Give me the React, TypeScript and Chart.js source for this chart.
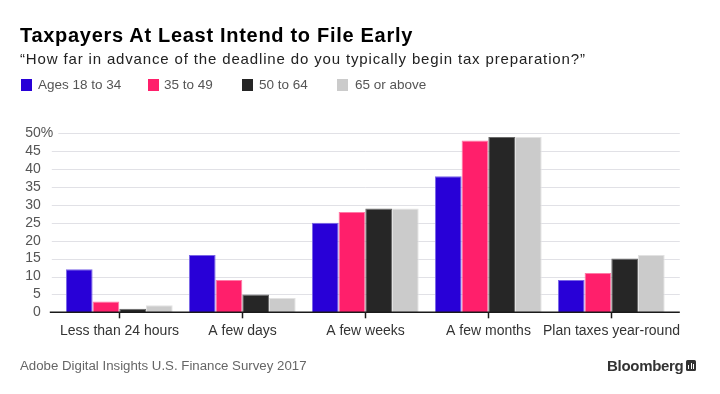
import React, { useEffect, useRef } from "react";
import { Chart, registerables } from "chart.js";
Chart.register(...registerables);

const categories = ["Less than 24 hours", "A few days", "A few weeks", "A few months", "Plan taxes year-round"];
const ages18to34 = [12, 16, 25, 38, 9];
const ages35to49 = [3, 9, 28, 48, 11];
const ages50to64 = [1, 5, 29, 49, 15];
const ages65plus = [2, 4, 29, 49, 16];
const seriesNames = ["Ages 18 to 34", "35 to 49", "50 to 64", "65 or above"];
const seriesColors = ["#2800d7", "#ff1f6b", "#262626", "#cbcbcb"];
const seriesBorders = ["#7a66e6", "#ff7aa6", "#6a6a6a", "#e2e2e2"];
const yMax = 50;
const yStep = 5;

const FONT = '"Liberation Sans", Arial, sans-serif';

export default function App() {
  const ref = useRef<HTMLCanvasElement>(null);

  useEffect(() => {
    const canvas = ref.current;
    if (!canvas) return;

    const axisPlugin = {
      id: "bbgAxis",
      beforeDatasetsDraw(chart: any) {
        const { ctx, chartArea } = chart;
        const y = chart.scales.y;
        ctx.save();
        ctx.strokeStyle = "#e1e1e6";
        ctx.lineWidth = 1;
        y.ticks.forEach((t: any) => {
          if (t.value === 0) return;
          const py = Math.round(y.getPixelForValue(t.value)) + 0.5;
          const x0 = t.value === yMax ? chartArea.left + 0.5 : chartArea.left - 6;
          ctx.beginPath();
          ctx.moveTo(x0, py);
          ctx.lineTo(chartArea.right + 7, py);
          ctx.stroke();
        });
        ctx.restore();
      },
      afterDatasetsDraw(chart: any) {
        const { ctx, chartArea } = chart;
        const y = chart.scales.y;
        const x = chart.scales.x;
        ctx.save();
        const by = y.getPixelForValue(0);
        ctx.strokeStyle = "#1a1a1a";
        ctx.lineWidth = 1.5;
        ctx.beginPath();
        ctx.moveTo(chartArea.left - 8, by);
        ctx.lineTo(chartArea.right + 7, by);
        ctx.stroke();
        ctx.fillStyle = "#333";
        ctx.font = `14px ${FONT}`;
        ctx.textAlign = "center";
        ctx.textBaseline = "middle";
        x.ticks.forEach((t: any, i: number) => {
          const px = Math.round(x.getPixelForValue(t.value)) + 0.5;
          ctx.beginPath();
          ctx.moveTo(px, by);
          ctx.lineTo(px, by + 6);
          ctx.stroke();
          ctx.fillText(categories[i], px, by + 18.5);
        });
        ctx.fillStyle = "#555";
        ctx.font = `14px ${FONT}`;
        ctx.textBaseline = "middle";
        const lx = chartArea.left - 17;
        y.ticks.forEach((t: any) => {
          const py = y.getPixelForValue(t.value);
          ctx.textAlign = "right";
          ctx.fillText(String(t.value), lx, py);
          if (t.value === yMax) {
            ctx.textAlign = "left";
            ctx.fillText("%", lx, py);
          }
        });
        ctx.restore();
      },
    };

    const data = [ages18to34, ages35to49, ages50to64, ages65plus];
    const chart = new Chart(canvas, {
      type: "bar",
      data: {
        labels: categories,
        datasets: data.map((d, i) => ({
          label: seriesNames[i],
          data: d,
          backgroundColor: seriesColors[i],
          borderColor: seriesBorders[i],
          borderWidth: 1,
          categoryPercentage: 0.868,
          barPercentage: 1,
        })),
      },
      options: {
        animation: false,
        responsive: false,
        maintainAspectRatio: false,
        layout: { padding: { left: 57.8, right: 47.2, top: 133.3, bottom: 81.7 } },
        plugins: { legend: { display: false }, tooltip: { enabled: false } },
        scales: {
          x: { display: false, offset: true },
          y: { display: false, min: 0, max: yMax, ticks: { stepSize: yStep } },
        },
      },
      plugins: [axisPlugin],
    });
    return () => chart.destroy();
  }, []);

  const legendPos = [
    { sq: 21, tx: 38 },
    { sq: 148, tx: 164 },
    { sq: 242, tx: 259 },
    { sq: 337, tx: 355 },
  ];

  return (
    <div style={{ position: "fixed", left: 0, top: 0, width: 720, height: 394, background: "#fff", fontFamily: FONT, overflow: "hidden" }}>
      <canvas ref={ref} width={720} height={394} style={{ position: "absolute", left: 0, top: 0, width: 720, height: 394 }} />
      <div style={{ position: "absolute", left: 20, top: 23, fontSize: 20, fontWeight: 700, color: "#000", letterSpacing: 0.7, whiteSpace: "nowrap", lineHeight: "24px" }}>
        Taxpayers At Least Intend to File Early
      </div>
      <div style={{ position: "absolute", left: 20, top: 50, fontSize: 15, color: "#222", whiteSpace: "nowrap", lineHeight: "18px", letterSpacing: 0.85 }}>
        “How far in advance of the deadline do you typically begin tax preparation?”
      </div>
      {seriesNames.map((n, i) => (
        <React.Fragment key={n}>
          <div style={{ position: "absolute", left: legendPos[i].sq, top: 79, width: 11, height: 12, background: seriesColors[i] }} />
          <div style={{ position: "absolute", left: legendPos[i].tx, top: 77, fontSize: 13.5, color: "#555", whiteSpace: "nowrap", lineHeight: "16px" }}>{n}</div>
        </React.Fragment>
      ))}
      <div style={{ position: "absolute", left: 20, top: 358, fontSize: 13.25, color: "#666", whiteSpace: "nowrap", lineHeight: "16px" }}>
        Adobe Digital Insights U.S. Finance Survey 2017
      </div>
      <div style={{ position: "absolute", left: 607, top: 357, fontSize: 15, fontWeight: 700, color: "#333", whiteSpace: "nowrap", lineHeight: "18px", letterSpacing: -0.3 }}>
        Bloomberg
      </div>
      <div style={{ position: "absolute", left: 686, top: 360, width: 10, height: 11, background: "#333", borderRadius: 1.5 }}>
        <div style={{ position: "absolute", left: 2, top: 5, width: 1, height: 4, background: "#fff" }} />
        <div style={{ position: "absolute", left: 4.5, top: 3, width: 1, height: 6, background: "#fff" }} />
        <div style={{ position: "absolute", left: 7, top: 4, width: 1, height: 5, background: "#fff" }} />
      </div>
    </div>
  );
}
